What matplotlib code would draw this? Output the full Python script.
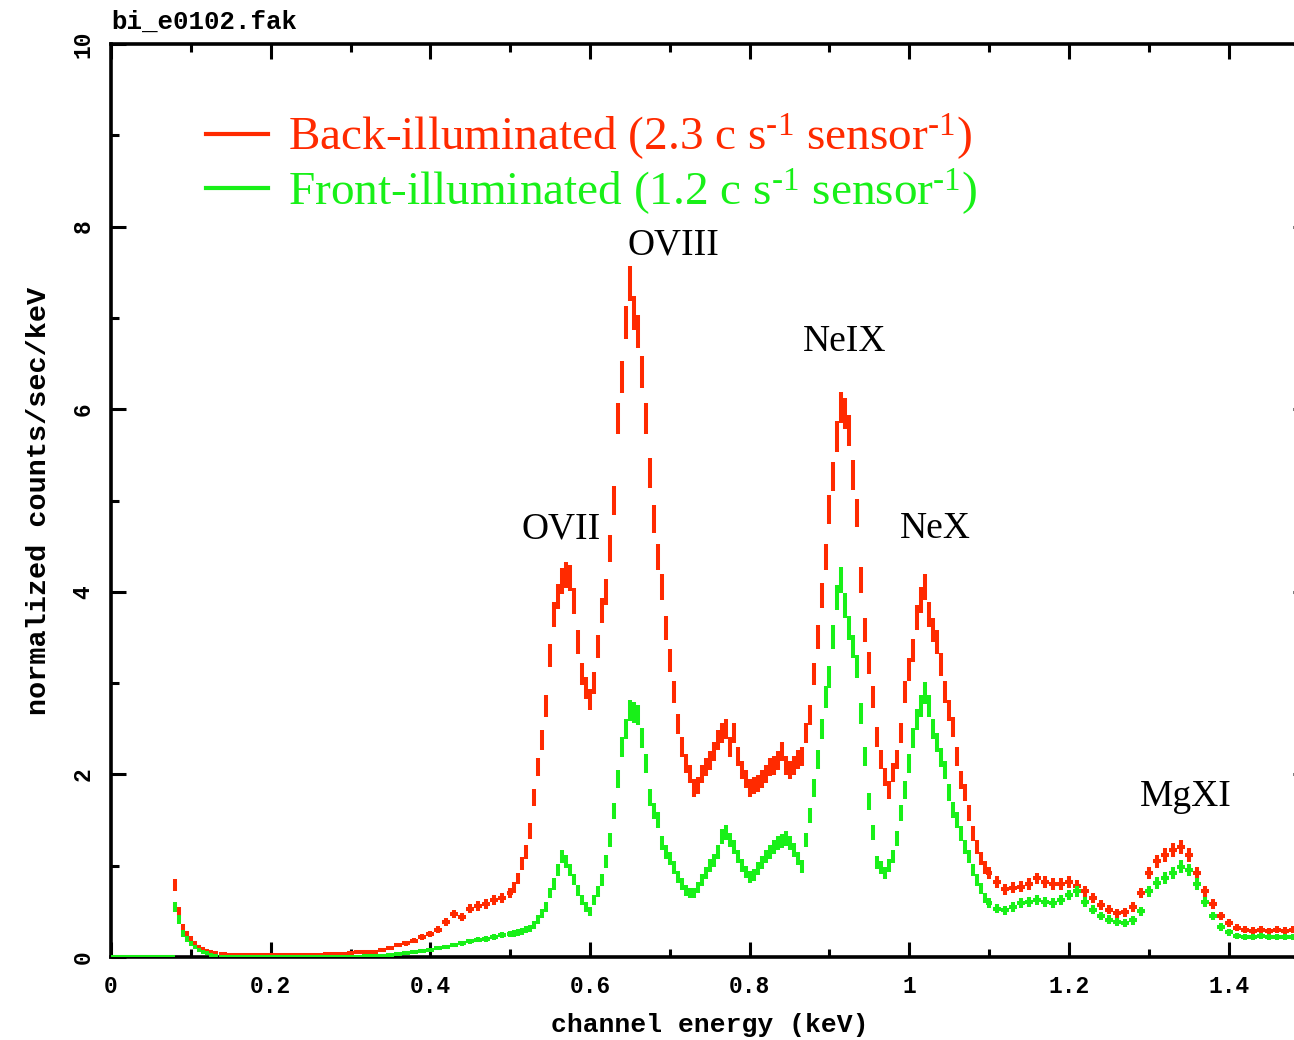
import numpy as np
import matplotlib
matplotlib.use("Agg")
import matplotlib.pyplot as plt
from matplotlib.lines import Line2D
from matplotlib.ticker import MultipleLocator, FuncFormatter

plt.rcParams['mathtext.fontset'] = 'custom'
plt.rcParams['mathtext.rm'] = 'Liberation Serif'
plt.rcParams['mathtext.it'] = 'Liberation Serif:italic'

# ---------------- data ----------------
energy_low = [0.005, 0.015, 0.025, 0.035, 0.045, 0.055, 0.065, 0.075]
energy_soft = [0.08, 0.085, 0.09, 0.095, 0.10, 0.105, 0.11, 0.115, 0.12, 0.125, 0.13]
energy_mid_lo = [0.14, 0.15, 0.16, 0.17, 0.18, 0.19, 0.20, 0.21, 0.22, 0.23, 0.24, 0.25,
                 0.26, 0.27, 0.28, 0.29, 0.30, 0.31, 0.32, 0.33, 0.34, 0.35, 0.36, 0.37,
                 0.38, 0.39, 0.40, 0.41, 0.42, 0.43, 0.44, 0.45, 0.46, 0.47, 0.48, 0.49]
energy_lines = [0.500, 0.505, 0.510, 0.515, 0.520, 0.525, 0.530, 0.535, 0.540, 0.545,
                0.550, 0.555, 0.560, 0.565, 0.570, 0.575, 0.580, 0.585, 0.590, 0.595,
                0.600, 0.605, 0.610, 0.615, 0.620, 0.625, 0.630, 0.635, 0.640, 0.645,
                0.650, 0.655, 0.660, 0.665, 0.670, 0.675, 0.680, 0.685, 0.690, 0.695,
                0.700, 0.705, 0.710, 0.715, 0.720, 0.725, 0.730, 0.735, 0.740, 0.745,
                0.750, 0.755, 0.760, 0.765, 0.770, 0.775, 0.780, 0.785, 0.790, 0.795,
                0.800, 0.805, 0.810, 0.815, 0.820, 0.825, 0.830, 0.835, 0.840, 0.845,
                0.850, 0.855, 0.860, 0.865, 0.870, 0.875, 0.880, 0.885, 0.890, 0.895,
                0.900, 0.905, 0.910, 0.915, 0.920, 0.925, 0.930, 0.935, 0.940, 0.945,
                0.950, 0.955, 0.960, 0.965, 0.970, 0.975, 0.980, 0.985, 0.990, 0.995,
                1.000, 1.005, 1.010, 1.015, 1.020, 1.025, 1.030, 1.035, 1.040, 1.045,
                1.050, 1.055, 1.060, 1.065, 1.070, 1.075, 1.080, 1.085, 1.090, 1.095,
                1.100]
energy_high = [1.11, 1.12, 1.13, 1.14, 1.15, 1.16, 1.17, 1.18, 1.19, 1.20, 1.21, 1.22,
               1.23, 1.24, 1.25, 1.26, 1.27, 1.28, 1.29, 1.30, 1.31, 1.32, 1.33, 1.34,
               1.35, 1.36, 1.37, 1.38, 1.39, 1.40, 1.41, 1.42, 1.43, 1.44, 1.45, 1.46,
               1.47, 1.48, 1.49]

# Back-illuminated counts/sec/keV
bi_low = [0, 0, 0, 0, 0, 0, 0, 0]
bi_soft = [0.79, 0.50, 0.32, 0.25, 0.20, 0.15, 0.11, 0.09, 0.07, 0.05, 0.04]
bi_mid_lo = [0.03, 0.02, 0.02, 0.02, 0.02, 0.02, 0.02, 0.02, 0.02, 0.02, 0.02, 0.02,
             0.02, 0.03, 0.03, 0.03, 0.04, 0.05, 0.05, 0.06, 0.08, 0.10, 0.13, 0.15,
             0.18, 0.22, 0.25, 0.30, 0.38, 0.47, 0.44, 0.53, 0.56, 0.58, 0.62, 0.65]
bi_lines = [0.70, 0.76, 0.86, 1.02, 1.15, 1.38, 1.75, 2.08, 2.38, 2.75,
            3.30, 3.75, 3.95, 4.12, 4.18, 4.15, 3.90, 3.45, 3.10, 2.95,
            2.82, 3.00, 3.40, 3.80, 4.00, 4.47, 5.00, 5.90, 6.35, 6.95,
            7.38, 7.05, 6.85, 6.41, 5.90, 5.30, 4.80, 4.38, 4.05, 3.60,
            3.25, 2.90, 2.55, 2.30, 2.12, 2.00, 1.85, 1.88, 2.00, 2.08,
            2.15, 2.25, 2.38, 2.45, 2.50, 2.30, 2.45, 2.20, 2.05, 1.95,
            1.85, 1.88, 1.90, 1.95, 2.00, 2.08, 2.10, 2.15, 2.25, 2.10,
            2.05, 2.10, 2.16, 2.20, 2.45, 2.65, 3.10, 3.50, 3.96, 4.38,
            4.90, 5.26, 5.70, 6.02, 5.95, 5.77, 5.28, 4.86, 4.13, 3.58,
            3.22, 2.85, 2.41, 2.16, 1.97, 1.83, 2.02, 2.16, 2.45, 2.90,
            3.15, 3.36, 3.72, 3.91, 4.05, 3.75, 3.58, 3.45, 3.20, 2.90,
            2.70, 2.52, 2.20, 1.94, 1.80, 1.58, 1.35, 1.20, 1.08, 0.98,
            0.92]
bi_high = [0.82, 0.74, 0.76, 0.77, 0.80, 0.86, 0.82, 0.80, 0.80, 0.82, 0.78, 0.72,
           0.65, 0.57, 0.52, 0.48, 0.49, 0.55, 0.70, 0.92, 1.05, 1.12, 1.17, 1.20,
           1.12, 0.92, 0.72, 0.58, 0.45, 0.37, 0.32, 0.30, 0.29, 0.30, 0.28, 0.30,
           0.29, 0.30, 0.30]

# Front-illuminated counts/sec/keV
fi_low = [0, 0, 0, 0, 0, 0, 0, 0]
fi_soft = [0.55, 0.41, 0.26, 0.20, 0.15, 0.11, 0.08, 0.05, 0.04, 0.02, 0.01]
fi_mid_lo = [0.0, 0.0, 0.0, 0.0, 0.0, 0.0, 0.0, 0.0, 0.0, 0.0, 0.0, 0.0,
             0.0, 0.0, 0.0, 0.0, 0.0, 0.0, 0.01, 0.01, 0.01, 0.02, 0.03, 0.04,
             0.05, 0.07, 0.08, 0.10, 0.11, 0.13, 0.15, 0.17, 0.19, 0.20, 0.22, 0.24]
fi_lines = [0.25, 0.26, 0.27, 0.28, 0.30, 0.31, 0.35, 0.41, 0.48, 0.55,
            0.70, 0.80, 0.95, 1.10, 1.05, 0.95, 0.85, 0.73, 0.62, 0.55,
            0.50, 0.62, 0.72, 0.84, 1.05, 1.28, 1.60, 1.95, 2.30, 2.50,
            2.70, 2.68, 2.65, 2.40, 2.12, 1.75, 1.60, 1.50, 1.25, 1.15,
            1.08, 0.98, 0.88, 0.80, 0.73, 0.70, 0.70, 0.76, 0.84, 0.92,
            1.00, 1.06, 1.15, 1.32, 1.36, 1.28, 1.20, 1.10, 1.00, 0.93,
            0.88, 0.90, 0.97, 1.03, 1.10, 1.15, 1.20, 1.25, 1.27, 1.30,
            1.25, 1.17, 1.08, 0.99, 1.28, 1.55, 1.85, 2.16, 2.50, 2.85,
            3.07, 3.50, 3.94, 4.13, 3.85, 3.60, 3.40, 3.18, 2.67, 2.20,
            1.70, 1.36, 1.03, 0.98, 0.92, 1.00, 1.10, 1.30, 1.58, 1.83,
            2.12, 2.40, 2.60, 2.75, 2.89, 2.75, 2.50, 2.35, 2.19, 2.05,
            1.80, 1.61, 1.50, 1.35, 1.20, 1.10, 0.95, 0.84, 0.75, 0.65,
            0.59]
fi_high = [0.53, 0.51, 0.55, 0.59, 0.60, 0.62, 0.60, 0.59, 0.62, 0.68, 0.72, 0.60,
           0.52, 0.45, 0.41, 0.38, 0.37, 0.40, 0.50, 0.72, 0.81, 0.87, 0.92, 0.99,
           0.95, 0.80, 0.60, 0.45, 0.33, 0.27, 0.23, 0.22, 0.22, 0.23, 0.22, 0.22,
           0.22, 0.22, 0.22]

line_names = ["OVII", "OVIII", "NeIX", "NeX", "MgXI"]
line_label_x = [0.564, 0.705, 0.919, 1.0325, 1.346]
line_label_y = [4.69, 7.80, 6.74, 4.69, 1.76]

legend_labels = [r"Back-illuminated (2.3 c s$^{\text{-1}}$ sensor$^{\text{-1}}$)",
                 r"Front-illuminated (1.2 c s$^{\text{-1}}$ sensor$^{\text{-1}}$)"]
RED = "#ff2a00"
GREEN = "#18f018"

# ---------------- assemble ----------------
energy = np.array(energy_low + energy_soft + energy_mid_lo + energy_lines + energy_high)
bi = np.array(bi_low + bi_soft + bi_mid_lo + bi_lines + bi_high)
fi = np.array(fi_low + fi_soft + fi_mid_lo + fi_lines + fi_high)
# half bin widths from the channel grid
half_w = np.gradient(energy) / 2.0
half_w[:len(energy_low)] = 0.005
# statistical (Poisson-like) errors scale with sqrt of the rate
bi_err = 0.07 * np.sqrt(bi)
fi_err = 0.07 * np.sqrt(fi)

# ---------------- figure ----------------
W, H = 1294, 1040
fig = plt.figure(figsize=(W / 100, H / 100), dpi=100)
ax = fig.add_axes([111 / W, 83 / H, 1197.5 / W, 913 / H])

ax.errorbar(energy, bi, xerr=half_w, yerr=bi_err, fmt='none', ecolor=RED,
            elinewidth=2.9, capsize=0, zorder=3)
ax.errorbar(energy, fi, xerr=half_w, yerr=fi_err, fmt='none', ecolor=GREEN,
            elinewidth=2.9, capsize=0, zorder=3.1)

ax.set_xlim(0, 1.5)
ax.set_ylim(0, 10)

mono = dict(family="Liberation Mono", weight="bold")
serif = "Liberation Serif"

ax.xaxis.set_major_locator(MultipleLocator(0.2))
ax.xaxis.set_minor_locator(MultipleLocator(0.1))
ax.yaxis.set_major_locator(MultipleLocator(2))
ax.yaxis.set_minor_locator(MultipleLocator(1))
ax.xaxis.set_major_formatter(FuncFormatter(lambda v, p: f"{v:g}"))
ax.yaxis.set_major_formatter(FuncFormatter(lambda v, p: f"{v:g}"))
ax.tick_params(which='both', direction='in', top=True, right=True, width=2.2, color='black')
ax.tick_params(which='major', length=10.5)
ax.tick_params(which='minor', length=5.5)
ax.tick_params(axis='x', which='major', pad=13)
ax.tick_params(axis='y', which='major', pad=12)
for lab in ax.get_xticklabels():
    lab.set_fontfamily("Liberation Mono"); lab.set_fontweight("bold"); lab.set_fontsize(16.5)
for lab in ax.get_yticklabels():
    lab.set_fontfamily("Liberation Mono"); lab.set_fontweight("bold"); lab.set_fontsize(16.5)
    lab.set_rotation(90); lab.set_va('center')
for sp in ax.spines.values():
    sp.set_linewidth(2.6)

ax.set_xlabel("channel energy (keV)", fontsize=19, labelpad=11, **mono)
ax.set_ylabel("normalized counts/sec/keV", fontsize=20.5, labelpad=14, **mono)
fig.text(111 / W, 1 - 22 / H, "bi_e0102.fak", fontsize=18.5, ha='left', va='center', **mono)

for name, lx, ly in zip(line_names, line_label_x, line_label_y):
    ax.text(lx, ly, name, fontsize=27, family=serif, ha='center', va='center', color='black')

handles = [Line2D([], [], color=RED, lw=3), Line2D([], [], color=GREEN, lw=3)]
leg = ax.legend(handles, legend_labels, loc='upper left', bbox_to_anchor=(0.079, 0.926),
                frameon=False, prop={'family': serif, 'size': 34}, handlelength=1.33,
                handletextpad=0.42, labelspacing=0.08, borderpad=0, borderaxespad=0)
for txt, c in zip(leg.get_texts(), [RED, GREEN]):
    txt.set_color(c)

fig.savefig("out.png", dpi=100)
